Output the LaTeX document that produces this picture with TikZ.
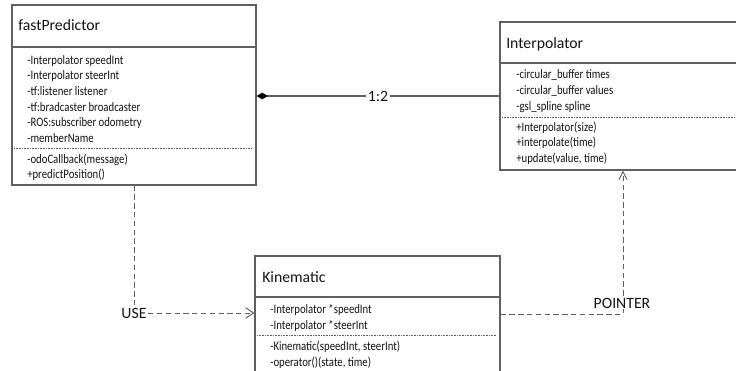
\documentclass[tikz,border=0pt]{standalone}
\usepackage{fontspec}
\setmainfont{Carlito}
\newfontfamily\memberfont[FakeStretch=0.83]{Carlito}
\usetikzlibrary{arrows.meta,fit,calc}
\definecolor{umlline}{HTML}{606060}
\definecolor{umltext}{HTML}{141414}

\begin{document}
\begin{tikzpicture}[
    x=0.75pt,y=-0.75pt,
    cls/.style    = {draw=umlline,line width=0.9pt,inner sep=0pt,fill=white},
    title/.style  = {font=\fontsize{11.8}{14}\selectfont,text=umltext,anchor=base west,inner sep=0pt},
    member/.style = {font=\memberfont\fontsize{9.7}{11.8}\selectfont,text=umltext,anchor=base west,inner sep=0pt},
    sep/.style    = {umlline,line width=0.9pt},
    dotsep/.style = {umlline,line width=0.6pt,dash pattern=on 0.6pt off 0.6pt},
    dep/.style    = {umlline,line width=0.7pt,dash pattern=on 4pt off 2.6pt},
    lbl/.style    = {font=\fontsize{11.8}{14}\selectfont,text=umltext,fill=white,inner sep=1pt},
  ]
  \useasboundingbox (0,0) rectangle (736,371);
  \clip (0,0) rectangle (736,371);

  % class boxes
  \node[cls,fit={(12,5) (256,185)}]   (fp)  {};
  \node[cls,fit={(500,22) (760,170)}] (ip)  {};
  \node[cls,fit={(255,256) (500,400)}] (kin) {};

  % fastPredictor
  \node[title] (fpt) at (18,31) {fastPredictor};
  \draw[sep] (12,47) -- (256,47);
  \foreach \m [count=\i] in {-Interpolator speedInt,-Interpolator steerInt,
      -tf:listener listener,-tf:bradcaster broadcaster,
      -ROS:subscriber odometry,-memberName}
    \node[member] (fpa\i) at (27,{64+15.7*(\i-1)}) {\m};
  \draw[dotsep] (14,148) -- (252,148);
  \foreach \m [count=\i] in {-odoCallback(message),+predictPosition()}
    \node[member] (fpm\i) at (27,{163+15.7*(\i-1)}) {\m};

  % Interpolator
  \node[title] (ipt) at (506,48) {Interpolator};
  \draw[sep] (500,63) -- (760,63);
  \foreach \m [count=\i] in {-circular\_buffer times,-circular\_buffer values,-gsl\_spline spline}
    \node[member] (ipa\i) at (516,{78+16.2*(\i-1)}) {\m};
  \draw[dotsep] (502,117) -- (736,117);
  \foreach \m [count=\i] in {+Interpolator(size),+interpolate(time),{+update(value, time)}}
    \node[member] (ipm\i) at (516,{131+15.6*(\i-1)}) {\m};

  % Kinematic
  \node[title] (kint) at (262,282) {Kinematic};
  \draw[sep] (255,297) -- (500,297);
  \foreach \m [count=\i] in {-Interpolator *speedInt,-Interpolator *steerInt}
    \node[member] (kina\i) at (270,{313+16*(\i-1)}) {\m};
  \draw[dotsep] (257,335) -- (496,335);
  \foreach \m [count=\i] in {{-Kinematic(speedInt, steerInt)},{-operator()(state, time)}}
    \node[member] (kinm\i) at (270,{350+16*(\i-1)}) {\m};

  % composition fastPredictor -> Interpolator
  \node[lbl] (mult) at (378,96) {1:2};
  \draw[umlline,line width=0.8pt,{Diamond[length=8.5pt,width=5pt,fill=black,color=black]}-]
    (fp.east |- mult) -- (mult);
  \draw[umlline,line width=0.8pt] (mult) -- (ip.west |- mult);

  % dependencies
  \node[lbl] (use) at (134,313) {USE};
  \draw[dep] (fp.south -| use) -- (use);
  \draw[dep,-{Straight Barb[length=6pt,width=8pt]}] (use) -- (kin.west |- use);

  \coordinate (bend) at (623,314);
  \draw[dep,-{Straight Barb[length=6pt,width=6pt]}] (kin.east |- bend) -- (bend) -- (ip.south -| bend);
  \node[lbl] (ptr) at (622,303) {POINTER};
\end{tikzpicture}
\end{document}
